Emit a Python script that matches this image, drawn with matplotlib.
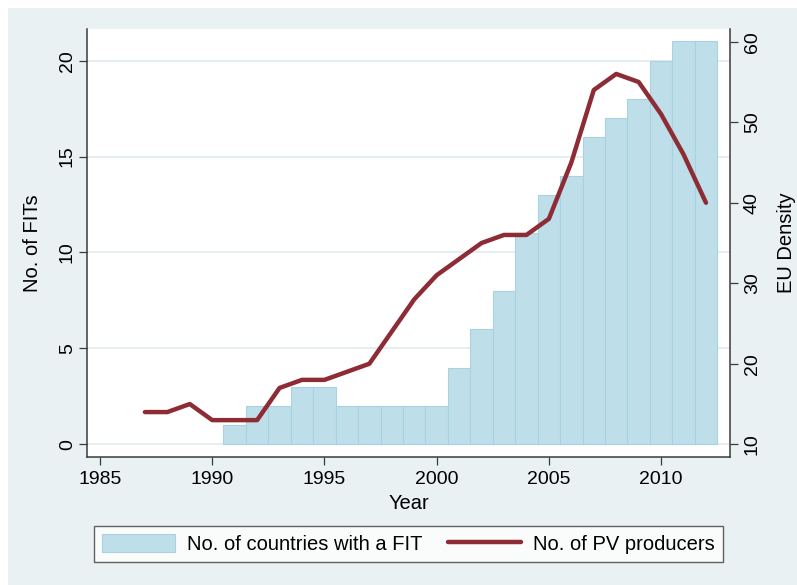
import matplotlib
matplotlib.use("Agg")
import matplotlib.pyplot as plt
from matplotlib.patches import Rectangle

plt.rcParams['font.family'] = ['Liberation Sans', 'DejaVu Sans']

# ---- data ----
fit_years = list(range(1991, 2013))
fit_counts = [1, 2, 2, 3, 3, 2, 2, 2, 2, 2, 4, 6, 8, 11, 13, 14, 16, 17, 18, 20, 21, 21]

pv_years = list(range(1987, 2013))
pv_density = [14, 14, 15, 13, 13, 13, 17, 18, 18, 19, 20, 24, 28, 31, 33, 35, 36, 36,
              38, 45, 54, 56, 55, 51, 46, 40]

x_ticks = [1985, 1990, 1995, 2000, 2005, 2010]
left_ticks = [0, 5, 10, 15, 20]
right_ticks = [10, 20, 30, 40, 50, 60]

bg = '#EAF1F3'
bar_color = '#BEDFE9'
bar_edge = '#A8D2DF'
line_color = '#8E2C36'
axis_color = '#3A3A3A'

W, H = 797, 585
fig = plt.figure(figsize=(W / 100, H / 100), dpi=100, facecolor='white')
fig.add_artist(Rectangle((8 / W, 0), 1 - 8 / W, 1 - 8 / H, transform=fig.transFigure,
                         facecolor=bg, edgecolor='none', zorder=-10))

ax = fig.add_axes([87 / W, 1 - 457 / H, 643 / W, 428 / H])
ax.set_facecolor('white')
ax.set_axisbelow(True)

ax.bar(fit_years, fit_counts, width=1.0, color=bar_color, edgecolor=bar_edge,
       linewidth=0.8, label='No. of countries with a FIT', zorder=2)

ax.set_xlim(1984.42, 2013.07)
ax.set_ylim(-0.66, 21.65)
ax.set_xticks(x_ticks)
ax.set_yticks(left_ticks)
ax.yaxis.grid(True, color='#E4EDF0', linewidth=1.3, zorder=0)
ax.xaxis.grid(False)

ax2 = ax.twinx()
ax2.plot(pv_years, pv_density, color=line_color, linewidth=3.2,
         solid_joinstyle='round', solid_capstyle='round',
         label='No. of PV producers', zorder=3)
ax2.set_ylim(8.42, 61.58)
ax2.set_yticks(right_ticks)

for a in (ax, ax2):
    a.spines['top'].set_visible(False)
    for s in a.spines.values():
        s.set_color(axis_color)
        s.set_linewidth(1.1)
ax.spines['right'].set_visible(False)
ax2.spines['left'].set_visible(False)
ax2.spines['bottom'].set_visible(False)

ax.tick_params(axis='x', length=6, width=0.9, color=axis_color, labelsize=14, pad=4)
ax.tick_params(axis='y', length=6, width=0.9, color=axis_color, labelsize=14, pad=2,
               labelrotation=90)
ax2.tick_params(axis='y', length=6, width=0.9, color=axis_color, labelsize=14, pad=4,
                labelrotation=90)
for lab in ax.get_yticklabels():
    lab.set_va('center')
for lab in ax2.get_yticklabels():
    lab.set_va('center')

ax.set_xlabel('Year', fontsize=14.5, va='center')
ax.xaxis.set_label_coords(0.5, -0.1075)
ax.set_ylabel('No. of FITs', fontsize=14.5, va='center')
ax.yaxis.set_label_coords(-0.084, 0.5)
ax2.set_ylabel('EU Density', fontsize=14.5, va='center', rotation=90)
ax2.yaxis.set_label_coords(1.088, 0.5)

h1, l1 = ax.get_legend_handles_labels()
h2, l2 = ax2.get_legend_handles_labels()
leg = fig.legend(h1 + h2, l1 + l2, loc='center', bbox_to_anchor=(408.5 / W, 1 - 544 / H),
                 ncol=2, fontsize=14.5, frameon=True, fancybox=False, borderpad=0.4,
                 handlelength=3.6, handleheight=1.0, handletextpad=0.6,
                 columnspacing=1.3, borderaxespad=0)
leg.get_frame().set_edgecolor(axis_color)
leg.get_frame().set_linewidth(1.0)
leg.get_frame().set_facecolor('white')

fig.savefig('out.png', dpi=100, facecolor='white')
